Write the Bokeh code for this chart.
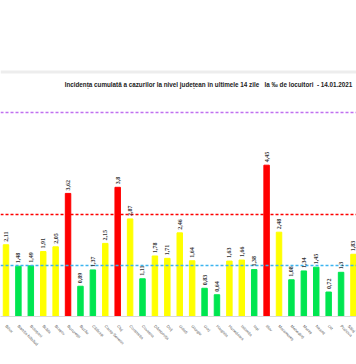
import math
from bokeh.plotting import figure
from bokeh.models import Range1d, FixedTicker, Span, Label, LabelSet, ColumnDataSource
from bokeh.embed import file_html
from bokeh.resources import INLINE

counties = ["Bihor", "Bistrița-Năsăud", "Botoșani", "Brăila", "Brașov", "București",
            "Buzău", "Călărași", "Caraș-Severin", "Cluj", "Constanța", "Covasna",
            "Dâmbovița", "Dolj", "Galați", "Giurgiu", "Gorj", "Harghita", "Hunedoara",
            "Ialomița", "Iași", "Ilfov", "Maramureș", "Mehedinți", "Mureș", "Neamț",
            "Olt", "Prahova", "Sălaj"]
incidence = [2.11, 1.48, 1.49, 1.91, 2.05, 3.62, 0.89, 1.37, 2.15, 3.8, 2.87, 1.11,
             1.78, 1.71, 2.46, 1.64, 0.83, 0.64, 1.63, 1.66, 1.38, 4.45, 2.48, 1.08,
             1.34, 1.45, 0.72, 1.3, 1.83]
thresholds = [1.5, 3.0, 6.0]
threshold_colors = ["#3CB4F0", "#FF0000", "#C070F0"]
title_text = ("Incidența cumulată a cazurilor la nivel județean în ultimele 14 zile"
              "\u00a0\u00a0 la ‰ de locuitori \u00a0- 14.01.2021")

def bar_color(v):
    if v < thresholds[0]:
        return "#00E650"
    if v < thresholds[1]:
        return "#FFFF00"
    return "#FF0000"

idx = list(range(len(counties)))
src = ColumnDataSource(dict(
    x=idx, top=incidence,
    color=[bar_color(v) for v in incidence],
    label=[str(v).replace(".", ",") for v in incidence],
))

W, H = 356, 364
px_per_unit_x = 12.41
px_per_unit_y = 34.0
frame_h = 316
p = figure(width=W, height=H, output_backend="svg", toolbar_location=None,
           x_range=Range1d(-5.5 / px_per_unit_x, (W - 5.5) / px_per_unit_x),
           y_range=Range1d(0, frame_h / px_per_unit_y),
           min_border_left=0, min_border_right=0, min_border_top=0,
           min_border_bottom=H - frame_h)
p.outline_line_color = None
p.grid.visible = False
p.yaxis.visible = False
p.background_fill_color = "white"
p.border_fill_color = "white"

p.vbar(x="x", top="top", width=0.44, color="color", source=src)

for t, c in zip(thresholds, threshold_colors):
    p.add_layout(Span(location=t, dimension="width", line_color=c,
                      line_dash="3 2", line_width=1.4))

p.add_layout(LabelSet(x="x", y="top", text="label", source=src,
                      angle=math.pi / 2, angle_units="rad",
                      text_align="left", text_baseline="middle",
                      x_offset=0, y_offset=3,
                      text_font="Liberation Sans", text_font_style="bold",
                      text_font_size="6px", text_color="#333333"))

# top border band
p.add_layout(Span(location=(frame_h - 71.5) / px_per_unit_y, dimension="width",
                  line_color="#EDEDED", line_width=3))

p.add_layout(Label(x=(208 - 5.5) / px_per_unit_x, y=(frame_h - 84) / px_per_unit_y,
                   text=title_text, text_align="center", text_baseline="middle",
                   text_font="Liberation Sans", text_font_style="bold",
                   text_font_size="6.3px", text_color="#222222"))

ax = p.xaxis[0]
ax.ticker = FixedTicker(ticks=idx)
ax.major_label_overrides = {i: n for i, n in zip(idx, counties)}
ax.major_label_orientation = -math.pi / 4
ax.major_label_text_font_size = "4px"
ax.major_label_text_font = "Liberation Sans"
ax.major_label_text_color = "#555555"
ax.axis_line_color = "#D9D9D9"
ax.major_tick_line_color = None
ax.minor_tick_line_color = None
ax.major_label_standoff = 3

open("out.html", "w").write(file_html(p, INLINE))
